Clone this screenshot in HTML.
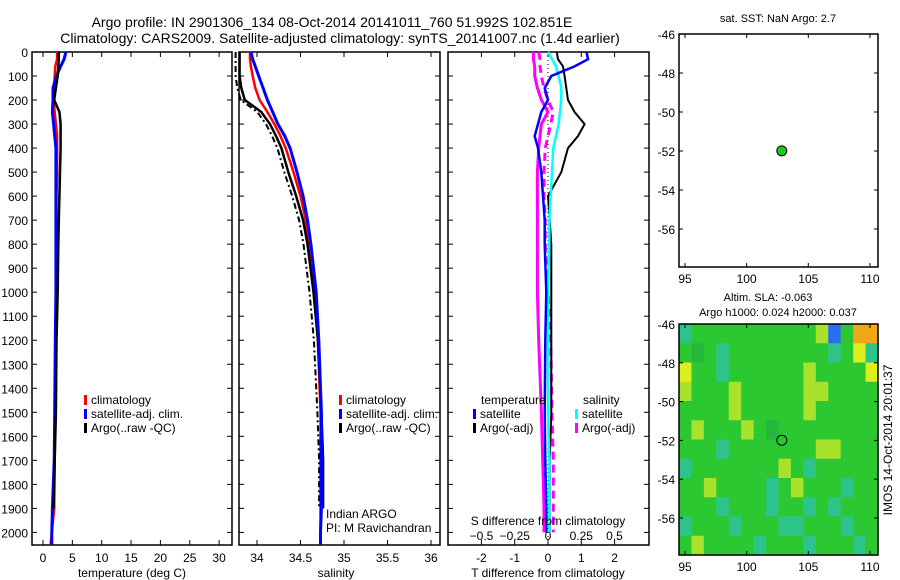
<!DOCTYPE html>
<html><head><meta charset="utf-8">
<style>
body{margin:0;background:#fff;}
svg{display:block;font-family:"Liberation Sans",sans-serif;font-size:12px;}
</style></head>
<body>
<svg id="fig" width="900" height="580" viewBox="0 0 900 580">
<text x="332" y="27" text-anchor="middle" font-size="14">Argo profile: IN 2901306_134 08-Oct-2014 20141011_760 51.992S 102.851E</text>
<text x="340" y="43" text-anchor="middle" font-size="14">Climatology: CARS2009. Satellite-adjusted climatology: synTS_20141007.nc (1.4d earlier)</text>
<text x="778" y="22" text-anchor="middle" font-size="11">sat. SST: NaN Argo: 2.7</text>
<text x="768" y="301" text-anchor="middle" font-size="11">Altim. SLA: -0.063</text>
<text x="778" y="316" text-anchor="middle" font-size="11">Argo h1000: 0.024 h2000: 0.037</text>
<text transform="translate(892,440) rotate(-90)" text-anchor="middle" font-size="12">IMOS 14-Oct-2014 20:01:37</text>
<g id="g"></g>
</svg>
<script>
// ---- data ----
const depthTicks=[0,100,200,300,400,500,600,700,800,900,1000,1100,1200,1300,1400,1500,1600,1700,1800,1900,2000];
const tempTicks=[0,5,10,15,20,25,30];
const salTicks=[34,34.5,35,35.5,36];
const salTickLabels=["34","34.5","35","35.5","36"];
const tdiffTicks=[-2,-1,0,1,2];
const sdiffTicks=[-0.5,-0.25,0,0.25,0.5];
const lonTicks=[95,100,105,110];
const latTicks=[-46,-48,-50,-52,-54,-56];
const depths=[0,30,60,100,150,200,250,300,350,400,500,600,700,800,1000,1200,1500,1700,1900,2000,2050];
const tempClim=[2.4,2.4,2.1,2.0,1.9,1.8,2.0,2.2,2.4,2.4,2.4,2.3,2.3,2.3,2.3,2.2,2.1,2.0,1.9,1.5,1.3];
const tempSat=[3.9,3.6,3.0,2.3,1.7,1.7,1.6,1.8,2.0,2.2,2.2,2.2,2.2,2.2,2.2,2.1,2.0,1.9,1.6,1.5,1.5];
const tempArgo=[2.7,2.7,2.6,2.5,2.2,1.9,2.8,3.0,3.0,3.0,2.9,2.8,2.7,2.6,2.5,2.3,2.2,2.0,1.8,null,null];
const salClim=[33.92,33.92,33.93,33.95,33.98,34.03,34.12,34.2,34.27,34.33,34.42,34.5,34.56,34.6,34.66,34.7,34.73,34.73,34.73,34.73,34.73];
const salSat=[33.93,33.95,33.98,34.02,34.07,34.12,34.18,34.24,34.32,34.38,34.46,34.53,34.58,34.62,34.68,34.71,34.74,34.74,34.74,34.73,34.73];
const salArgo=[33.8,33.8,33.8,33.8,33.82,33.86,34.05,34.15,34.22,34.28,34.36,34.45,34.53,34.58,34.65,34.7,34.74,34.76,34.76,null,null];
const dDepths=[0,30,60,100,150,200,250,300,350,400,500,600,700,800,1000,1200,1500,1700,1900,2000];
const tDiffSat=[1.16,1.2,0.8,0.1,-0.1,0.0,-0.2,-0.3,-0.4,-0.3,-0.2,-0.15,-0.1,-0.1,-0.05,-0.08,-0.1,-0.08,-0.05,-0.05];
const tDiffArgo=[0.26,0.3,0.45,0.5,0.55,0.6,0.8,1.1,0.9,0.6,0.4,0.0,0.05,0.1,0.1,0.1,0.1,0.05,0.05,0.05];
const sDiffSat=[0.0,0.03,0.06,0.08,0.1,0.1,0.09,0.08,0.06,0.04,0.03,0.02,0.01,0.01,0.0,0.0,0.0,0.01,0.01,0.01];
const sDiffArgo=[-0.11,-0.11,-0.1,-0.1,-0.08,-0.05,0.0,-0.05,-0.06,-0.07,-0.08,-0.08,-0.08,-0.08,-0.08,-0.07,-0.05,-0.04,-0.03,-0.03];
const sDiffArgo2=[-0.07,-0.06,-0.06,-0.05,-0.03,0.0,0.04,0.02,0.0,-0.02,-0.03,-0.03,-0.02,-0.02,0.0,0.02,0.03,0.04,0.04,0.04];
const argoLon=[102.851];
const argoLat=[-51.992];
// SLA grid, 16 cols (94.5..110.6) x 12 rows (-46..-58); codes: -1 blue,0 teal,1 green,2 dark green,3 yellowish,4 yellow,5 orange
const slaGrid=[
[0,1,1,1,1,1,1,1,1,1,1,3,-1,1,5,5],
[1,2,1,0,1,1,1,1,1,1,1,1,0,1,4,0],
[4,1,1,0,1,1,1,1,1,1,3,1,1,1,1,4],
[3,1,1,1,3,1,1,1,1,1,3,3,1,1,1,1],
[1,1,1,1,3,1,1,1,1,1,3,1,1,1,1,1],
[1,3,1,1,1,3,1,2,1,1,1,1,1,1,1,1],
[1,1,1,0,1,1,1,1,1,1,1,3,3,1,1,1],
[0,1,1,1,1,1,1,1,3,1,0,1,1,1,1,1],
[1,1,3,1,1,1,1,0,1,3,1,1,1,0,1,1],
[1,1,1,0,1,1,1,0,1,1,0,1,0,1,1,1],
[0,1,1,1,0,1,1,1,0,0,1,1,1,0,1,1],
[1,3,1,1,1,1,0,1,1,1,0,1,1,1,0,1]];
const slaColors={"-1":"#2a6ef0","0":"#2cc48a","1":"#2cc832","2":"#24b83c","3":"#a8e22a","4":"#dcee1c","5":"#f0a818"};

const NS="http://www.w3.org/2000/svg";
const G=document.getElementById('g');
function mk(tag,attrs,parent){const e=document.createElementNS(NS,tag);for(const k in attrs)e.setAttribute(k,attrs[k]);(parent||G).appendChild(e);return e;}
const Y0=52,YK=0.2402,YB=545;
const yD=d=>Y0+d*YK;

function box(x0,x1,y0,y1,name){
  const r=mk('rect',{x:x0,y:y0,width:x1-x0,height:y1-y0,fill:'none',stroke:'#000','stroke-width':1.5});
  
  
}
function yTicks(x0,x1,labels){
  depthTicks.forEach(d=>{const y=yD(d);
    mk('line',{x1:x0,y1:y,x2:x0+5,y2:y,stroke:'#000'});
    mk('line',{x1:x1-5,y1:y,x2:x1,y2:y,stroke:'#000'});
    if(labels){const t=mk('text',{x:x0-4,y:y+5,'text-anchor':'end'});t.textContent=d;
      
      }
  });
}
function xTicks(fx,vals,labs,yl,top){
  vals.forEach((v,i)=>{const x=fx(v);
    mk('line',{x1:x,y1:YB,x2:x,y2:YB-5,stroke:'#000'});
    if(top)mk('line',{x1:x,y1:Y0,x2:x,y2:Y0+5,stroke:'#000'});
    const t=mk('text',{x:x,y:yl,'text-anchor':'middle'});t.textContent=labs?labs[i]:v;
    
    
  });
}
function stairs(xs,ys,fx,fy,color,w,dash,name){
  let d='';let started=false;
  for(let i=0;i<xs.length;i++){
    if(xs[i]==null){started=false;continue;}
    const x=fx(xs[i]),y=fy(ys[i]);
    d+=(started?'L':'M')+x.toFixed(1)+' '+y.toFixed(1);started=true;
  }
  const p=mk('path',{d:d,fill:'none',stroke:color,'stroke-width':w});
  if(dash)p.setAttribute('stroke-dasharray',dash);
  
  
}
function legend(x,y,color,label){
  mk('rect',{x:x,y:y-9,width:3,height:10,fill:color});
  const t=mk('text',{x:x+7,y:y});t.textContent=label;
  
  
}
function txt(x,y,s,name,anchor){const t=mk('text',{x:x,y:y,'text-anchor':anchor||'start'});t.textContent=s;
  
  return t;}

// Panel 1 temperature
const xT=v=>43+v*5.87;
box(32,232,Y0,YB,'temperature-panel');
yTicks(32,232,true);
xTicks(xT,tempTicks,null,562,true);
stairs(tempClim,depths,xT,yD,'#f00',2.5,null,'temp-climatology-line');
stairs(tempSat,depths,xT,yD,'#00f',3,null,'temp-satellite-line');
stairs(tempArgo,depths,xT,yD,'#000',2.5,null,'temp-argo-line');
legend(84,404,'#f00','climatology');legend(84,418,'#00f','satellite-adj. clim.');legend(84,432,'#000','Argo(..raw -QC)');
txt(132,577,'temperature (deg C)','temperature-axis-title','middle');

// Panel 2 salinity
const xS=v=>257+(v-34)*87;
box(239,440,Y0,YB,'salinity-panel');
yTicks(239,440,false);
xTicks(xS,salTicks,salTickLabels,562,true);
stairs(salClim,depths,xS,yD,'#f00',2.5,null,'sal-climatology-line');
stairs(salArgo,depths,v=>xS(v)-4,yD,'#000',2,'6 3 2 3','sal-argo-raw-line');
stairs(salArgo,depths,xS,yD,'#000',2.5,null,'sal-argo-line');
stairs(salSat,depths,xS,yD,'#00f',3,null,'sal-satellite-line');
legend(339,404,'#f00','climatology');legend(339,418,'#00f','satellite-adj. clim.');legend(339,432,'#000','Argo(..raw -QC)');
txt(326,518,'Indian ARGO','credit-line-1');
txt(326,532,'PI: M Ravichandran','credit-line-2');
txt(336,577,'salinity','salinity-axis-title','middle');

// Panel 3 differences
const xTd=v=>548+v*33.3;
const xSd=v=>548+v*133;
box(448,649,Y0,YB,'difference-panel');
yTicks(448,649,false);
xTicks(xTd,tdiffTicks,null,562,true);
sdiffTicks.forEach(v=>{txt(xSd(v),540,String(v).replace('-','\u2212'),'s-tick-label','middle');});
mk('line',{x1:548,y1:Y0,x2:548,y2:YB,stroke:'#000','stroke-dasharray':'1 3'});
stairs(sDiffArgo2,dDepths,xSd,yD,'#f0f',3,'8 5','sdiff-argo-dashed-line');
stairs(sDiffArgo,dDepths,xSd,yD,'#f0f',3,null,'sdiff-argo-line');
stairs(tDiffArgo,dDepths,xTd,yD,'#000',2,null,'tdiff-argo-line');
stairs(sDiffSat,dDepths,xSd,yD,'#0ff',2.5,null,'sdiff-satellite-line');
stairs(tDiffSat,dDepths,xTd,yD,'#00f',2.5,null,'tdiff-satellite-line');
txt(481,404,'temperature','legend-title-temperature');txt(583,404,'salinity','legend-title-salinity');
legend(473,418,'#00f','satellite');legend(473,432,'#000','Argo(-adj)');
legend(575,418,'#0ff','satellite');legend(575,432,'#f0f','Argo(-adj)');
txt(548,525,'S difference from climatology','s-diff-axis-title','middle');
txt(548,577,'T difference from climatology','t-diff-axis-title','middle');

// Maps
const xL=v=>685+(v-95)*12.33;
function mapAxes(y0,y1,latY,name){
  box(679,878,y0,y1,name);
  lonTicks.forEach(v=>{const x=xL(v);mk('line',{x1:x,y1:y1,x2:x,y2:y1-4,stroke:'#000'});mk('line',{x1:x,y1:y0,x2:x,y2:y0+4,stroke:'#000'});
    txt(x,y1+16,v,'lon-tick-label','middle');});
  latTicks.forEach(v=>{const y=latY(v);mk('line',{x1:679,y1:y,x2:683,y2:y,stroke:'#000'});mk('line',{x1:874,y1:y,x2:878,y2:y,stroke:'#000'});
    txt(675,y+5,String(v),'lat-tick-label','end');});
}
const yM1=v=>34+(-46-v)*19.5;
const yM2=v=>324+(-46-v)*19.4;
// SLA heatmap
const cw=199/slaGrid[0].length,ch=231/slaGrid.length;
slaGrid.forEach((row,r)=>row.forEach((c,k)=>{
  const e=mk('rect',{x:(679+k*cw).toFixed(2),y:(324+r*ch).toFixed(2),width:(cw+0.6).toFixed(2),height:(ch+0.6).toFixed(2),fill:slaColors[c]});
  
  
}));
mapAxes(34,267,yM1,'sst-map');
mapAxes(324,555,yM2,'sla-map');
argoLon.forEach((lo,i)=>{
  const a=mk('circle',{cx:xL(lo),cy:yM1(argoLat[i]),r:5,fill:'#1ec81e',stroke:'#000'});
  
  
  const b=mk('circle',{cx:xL(lo),cy:yM2(argoLat[i]),r:5,fill:'none',stroke:'#000'});
  
  
});
</script>
</body></html>
